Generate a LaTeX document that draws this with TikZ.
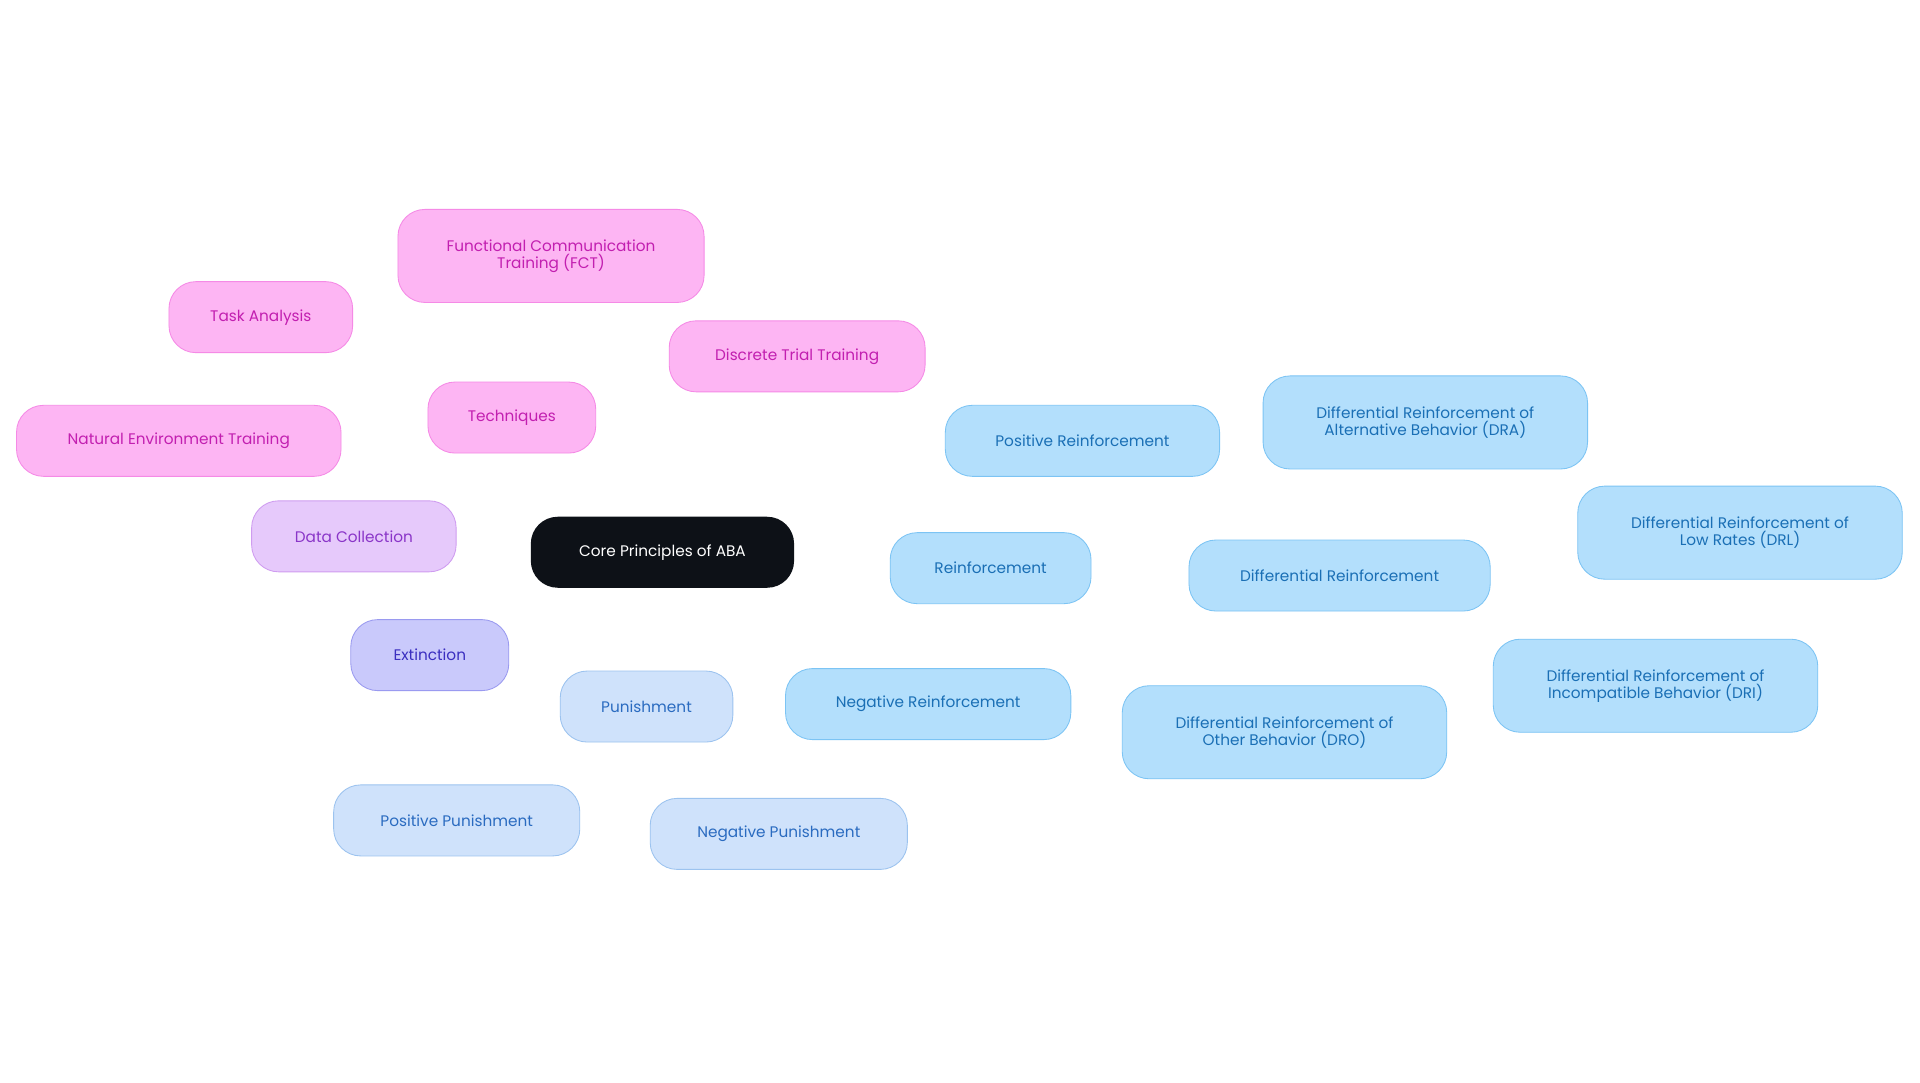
\documentclass[tikz,border=0pt]{standalone}
\usepackage{fontspec}
\setmainfont{Poppins}
\usetikzlibrary{backgrounds}
\definecolor{bfill}{HTML}{B3DFFC}\definecolor{bdraw}{HTML}{7CC4F4}\definecolor{btext}{HTML}{1A6FB5}
\definecolor{pfill}{HTML}{CFE2FB}\definecolor{pdraw}{HTML}{9CC3EF}\definecolor{ptext}{HTML}{2A6BC0}
\definecolor{efill}{HTML}{C9C9FB}\definecolor{edraw}{HTML}{9A9AF0}\definecolor{etext}{HTML}{3B2FC0}
\definecolor{dfill}{HTML}{E6C9FB}\definecolor{ddraw}{HTML}{CF9CF0}\definecolor{dtext}{HTML}{8A35C8}
\definecolor{tfill}{HTML}{FDB5F3}\definecolor{tdraw}{HTML}{F58AE6}\definecolor{ttext}{HTML}{C21FB0}
\definecolor{core}{HTML}{0D1117}
\tikzset{x=1pt,y=-1pt,
 box/.style={rounded corners=22pt,minimum height=58pt,align=center,font=\fontsize{12.5}{14}\selectfont,line width=0.7pt,inner sep=0pt},
 tall/.style={minimum height=76pt},
 bnode/.style={box,fill=bfill,draw=bdraw,text=btext},
 pnode/.style={box,fill=pfill,draw=pdraw,text=ptext},
 enode/.style={box,fill=efill,draw=edraw,text=etext},
 dnode/.style={box,fill=dfill,draw=ddraw,text=dtext},
 tnode/.style={box,fill=tfill,draw=tdraw,text=ttext},
 link/.style={line width=1.6pt}}
\begin{document}
\begin{tikzpicture}
\useasboundingbox[fill=white] (0,0) rectangle (1568,884);
\node[box,fill=core,text=white,minimum width=215pt] (core) at (541,451) {Core Principles of ABA};
\node[bnode,minimum width=164pt] (re) at (809,464) {Reinforcement};
\node[bnode,minimum width=246pt] (dr) at (1094,470) {Differential Reinforcement};
\node[bnode,minimum width=224pt] (pr) at (884,360) {Positive Reinforcement};
\node[bnode,minimum width=233pt] (nr) at (758,575) {Negative Reinforcement};
\node[bnode,tall,minimum width=265pt] (dra) at (1164,345) {Differential Reinforcement of\\Alternative Behavior (DRA)};
\node[bnode,tall,minimum width=265pt] (drl) at (1421,435) {Differential Reinforcement of\\Low Rates (DRL)};
\node[bnode,tall,minimum width=265pt] (dri) at (1352,560) {Differential Reinforcement of\\Incompatible Behavior (DRI)};
\node[bnode,tall,minimum width=265pt] (dro) at (1049,598) {Differential Reinforcement of\\Other Behavior (DRO)};
\node[pnode,minimum width=141pt] (pu) at (528,577) {Punishment};
\node[pnode,minimum width=201pt] (pp) at (373,670) {Positive Punishment};
\node[pnode,minimum width=210pt] (np) at (636,681) {Negative Punishment};
\node[enode,minimum width=129pt] (ex) at (351,535) {Extinction};
\node[dnode,minimum width=167pt] (dc) at (289,438) {Data Collection};
\node[tnode,minimum width=137pt] (te) at (418,341) {Techniques};
\node[tnode,tall,minimum width=250pt] (fct) at (450,209) {Functional Communication\\Training (FCT)};
\node[tnode,minimum width=150pt] (ta) at (213,259) {Task Analysis};
\node[tnode,minimum width=209pt] (dtt) at (651,291) {Discrete Trial Training};
\node[tnode,minimum width=265pt] (net) at (146,360) {Natural Environment Training};
\begin{scope}[on background layer]
\draw[link,bdraw] (core.center)--(re.center) (re.center)--(pr.center) (re.center)--(nr.center) (re.center)--(dr.center)
 (dr.center)--(dra.center) (dr.center)--(drl.center) (dr.center)--(dri.center) (dr.center)--(dro.center);
\draw[link,pdraw] (core.center)--(pu.center) (pu.center)--(pp.center) (pu.center)--(np.center);
\draw[link,edraw] (core.center)--(ex.center);
\draw[link,ddraw] (core.center)--(dc.center);
\draw[link,tdraw] (core.center)--(te.center) (te.center)--(fct.center) (te.center)--(ta.center) (te.center)--(dtt.center) (te.center)--(net.center);
\end{scope}
\end{tikzpicture}
\end{document}
